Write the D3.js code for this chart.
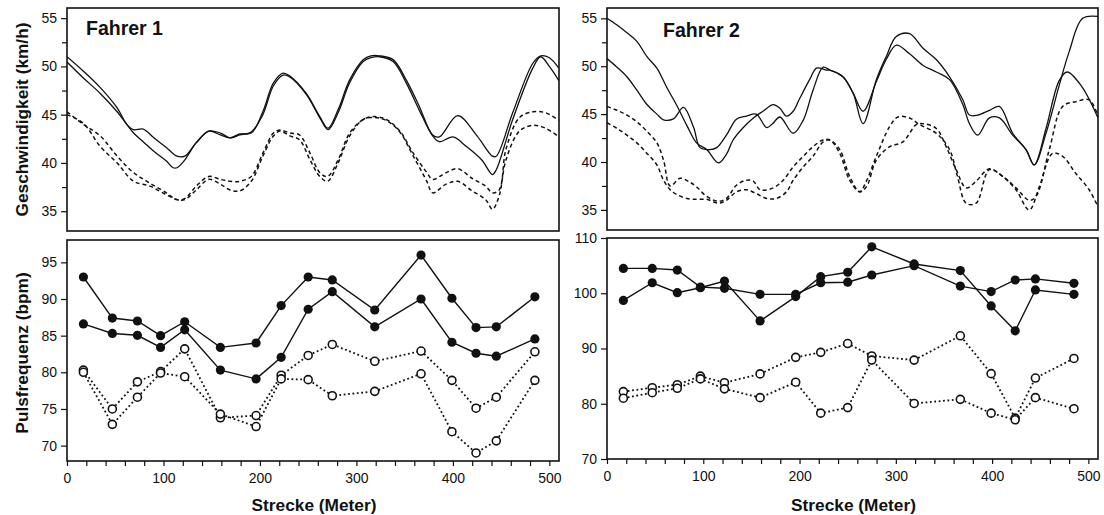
<!DOCTYPE html>
<html><head><meta charset="utf-8">
<script src="https://cdn.jsdelivr.net/npm/d3@7"></script>
<style>body{margin:0;background:#fff}svg{display:block}text{font-family:"Liberation Sans",Arial,sans-serif}</style>
</head><body><svg id="c" width="1104" height="515"></svg>
<script>
// ---------- DATA ----------
const panelTitles = ["Fahrer 1", "Fahrer 2"];
const yTitleSpeed = "Geschwindigkeit (km/h)";
const yTitlePulse = "Pulsfrequenz (bpm)";
const xTitle = "Strecke (Meter)";
const xTicks = [0, 100, 200, 300, 400, 500];
const speedTicks = [35, 40, 45, 50, 55];
const pulseTicks1 = [70, 75, 80, 85, 90, 95];
const pulseTicks2 = [70, 80, 90, 100, 110];

// Fahrer 1 speed (distance m, km/h)
const f1SpeedSolidA = [[0,51.0],[17,49.5],[34.5,47.8],[52,45.7],[62,44.0],[69,43.45],[79,43.5],[90,42.6],[103,41.6],[114,40.7],[122,40.7],[134,42.1],[147,43.3],[159,42.9],[169,42.6],[179,43.0],[191,43.1],[203,45.3],[214,48.3],[224,49.3],[231,49.0],[248,47.2],[262,44.8],[270.6,43.6],[281,45.5],[293,48.6],[307,50.7],[315,51.1],[324,51.1],[338,50.7],[351.6,48.6],[365,45.9],[379,42.9],[386,42.7],[405,44.9],[425,42.8],[441,40.7],[445,40.7],[462,45.2],[482.7,50.3],[491,51.1],[500,50.9],[510,49.8]];
const f1SpeedSolidB = [[0,50.45],[17,48.8],[34.5,47.2],[52,45.3],[62,44.0],[69,43.1],[79,42.2],[90,41.2],[103,40.2],[110,39.5],[114,39.5],[122,40.3],[134,42.1],[147,43.3],[159,43.1],[169,42.6],[179,42.9],[191,43.2],[203,45.0],[214,48.0],[224,49.1],[231,48.9],[248,47.1],[262,44.7],[270.6,43.45],[281,45.2],[293,48.3],[307,50.5],[315,50.9],[324,51.0],[338,50.5],[351.6,48.3],[365,45.5],[379,42.8],[386,42.2],[400,42.7],[414,41.7],[430,40.3],[441,38.8],[445,39.3],[462,44.5],[482.7,49.8],[491,51.0],[500,50.0],[510,48.5]];
const f1SpeedDashA = [[0,45.3],[17,44.0],[34.5,42.8],[52,40.7],[69,39.0],[86,37.9],[103,36.9],[114,36.2],[122,36.3],[134,37.6],[147,38.6],[159,38.3],[169,38.1],[179,38.1],[191,38.6],[203,41.0],[214,43.1],[221,43.4],[231,43.1],[241,42.9],[252,41.0],[262,39.0],[270,38.6],[281,40.3],[293,43.1],[307,44.5],[318,44.8],[331,44.5],[345,43.3],[359,41.0],[373,39.0],[379,38.3],[393,39.0],[405,39.4],[420,38.4],[434,37.6],[441,36.9],[448,37.2],[455,41.4],[469,44.7],[483,45.3],[496,45.2],[510,44.4]];
const f1SpeedDashB = [[0,45.0],[17,44.1],[34.5,41.7],[52,40.0],[69,38.1],[86,37.6],[103,36.7],[114,36.2],[122,36.2],[134,37.2],[147,38.3],[159,37.8],[169,37.2],[179,37.1],[191,38.1],[203,40.7],[214,42.8],[221,43.3],[231,42.8],[241,42.4],[252,40.3],[262,38.6],[270,38.1],[281,40.0],[293,42.8],[307,44.5],[318,44.7],[331,44.4],[345,43.2],[359,40.7],[373,38.1],[379,36.9],[393,37.8],[405,38.1],[420,37.1],[434,36.2],[441,35.2],[448,36.6],[455,40.3],[469,43.3],[483,43.9],[496,43.6],[510,42.7]];

// Fahrer 2 speed
const f2SpeedSolidA = [[0,55.0],[10.4,54.3],[20.7,53.5],[31,52.6],[41.5,51.0],[51.8,49.8],[62,47.8],[72.5,45.9],[83,43.8],[93,42.0],[103.6,41.3],[115.7,39.9],[124,40.8],[131,42.3],[141.6,43.6],[152,44.6],[162,45.3],[172.7,46.0],[179.6,45.6],[186.5,44.8],[193.4,45.3],[200,46.6],[211,48.7],[217.6,49.8],[228,49.6],[231.4,49.6],[245,48.9],[255.6,47.2],[266,44.0],[279.8,48.6],[290,51.0],[300.5,53.1],[314.3,53.4],[328,51.9],[342,50.7],[355.8,48.9],[369.6,46.5],[376.5,44.9],[385,44.9],[397.2,45.4],[407.6,45.8],[421.4,43.0],[435.2,41.3],[443.8,39.7],[456,43.0],[469.7,48.0],[480,51.5],[494,55.0],[510,55.2]];
const f2SpeedSolidB = [[0,50.8],[10.4,49.9],[20.7,48.9],[31,47.5],[41.5,46.0],[51.8,45.0],[58.7,44.4],[69,44.5],[79.4,45.7],[90,43.6],[96.7,41.5],[107,41.3],[114,41.5],[124,42.8],[134.7,44.5],[145,44.8],[155,45.0],[165.8,43.6],[172,44.0],[179.6,44.7],[193.4,43.0],[204,44.4],[214,47.5],[224.5,49.9],[231.4,49.6],[245,48.9],[255.6,47.2],[266,45.3],[279.8,48.4],[290,50.7],[300.5,52.2],[314.3,51.3],[328,50.1],[342,49.4],[355.8,48.6],[369.6,46.0],[376.5,44.0],[385,42.8],[397.2,44.6],[407.6,44.6],[421.4,42.8],[435.2,41.3],[443.8,39.7],[456,43.5],[469.7,48.5],[478,49.4],[493,47.9],[510,44.6]];
const f2SpeedDashA = [[0,45.8],[10.4,45.4],[20.7,44.9],[31,44.2],[41.5,43.2],[51.8,42.0],[58.7,40.2],[65.6,37.5],[76,38.3],[86,37.9],[93,37.4],[103.6,36.4],[115.7,35.9],[124,36.2],[134.7,37.6],[145,38.1],[152,38.0],[159,37.1],[172.7,37.3],[183,38.1],[193.4,39.5],[204,40.6],[214,41.6],[224.5,42.3],[231.4,42.3],[241.8,41.3],[252,38.5],[262.5,36.9],[269.4,37.4],[279.8,40.2],[293.6,41.6],[307.4,42.1],[321.2,43.9],[328,44.0],[342,43.5],[352.3,41.6],[362.7,39.2],[373,37.3],[383.4,38.0],[397.2,39.3],[411,38.5],[424.8,37.3],[438.6,36.0],[445.6,36.4],[459.4,41.3],[473.2,45.8],[487,46.3],[500.8,46.5],[510,44.8]];
const f2SpeedDashB = [[0,44.1],[10.4,43.5],[20.7,42.8],[31,42.0],[41.5,40.9],[51.8,39.7],[58.7,38.1],[65.6,37.1],[72.5,36.6],[83,36.2],[93,36.1],[103.6,36.1],[115.7,35.7],[124,36.0],[134.7,36.9],[145,37.1],[155,36.7],[165.8,36.2],[176,36.2],[186.5,36.9],[193.4,38.1],[204,39.5],[214,40.6],[224.5,42.1],[231.4,42.3],[241.8,40.9],[252,38.1],[262.5,36.9],[269.4,38.0],[279.8,40.6],[293.6,43.7],[302.2,44.7],[314.3,44.6],[324.7,43.9],[342,43.0],[355.8,41.3],[364,38.5],[373,35.7],[383.4,35.7],[397.2,39.2],[411,38.5],[424.8,37.1],[438.6,35.0],[449,37.4],[462.8,40.9],[473.2,40.6],[487,38.8],[500.8,37.1],[510,35.3]];

// Pulse (bpm) at measuring points
const pulseX = [17, 47, 73, 97, 122, 159, 196, 222, 250, 275, 319, 367, 399, 424, 445, 485];
const f1PulseFilledA = [93.0, 87.4, 87.0, 85.0, 86.9, 83.4, 84.0, 89.1, 93.0, 92.6, 88.5, 96.0, 90.1, 86.1, 86.2, 90.3];
const f1PulseFilledB = [86.6, 85.3, 85.05, 83.4, 85.8, 80.3, 79.1, 82.05, 88.6, 91.0, 86.2, 90.0, 84.1, 82.6, 82.2, 84.55];
const f1PulseOpenA = [80.3, 75.0, 78.7, 80.1, 83.2, 73.8, 74.1, 79.6, 82.3, 83.8, 81.5, 82.9, 78.9, 75.1, 76.6, 82.8];
const f1PulseOpenB = [80.0, 72.9, 76.6, 79.9, 79.4, 74.3, 72.6, 79.1, 79.0, 76.8, 77.4, 79.8, 71.9, 69.0, 70.65, 78.9];
const f2PulseFilledA = [104.5, 104.5, 104.2, 101.1, 100.9, 99.8, 99.8, 101.9, 102.0, 103.3, 105.0, 101.3, 100.3, 102.4, 102.6, 101.8];
const f2PulseFilledB = [98.7, 101.9, 100.1, 101.0, 102.2, 95.0, 99.4, 103.0, 103.8, 108.4, 105.3, 104.1, 97.7, 93.2, 100.6, 99.8];
const f2PulseOpenA = [82.2, 82.9, 83.45, 85.0, 83.8, 85.4, 88.4, 89.3, 90.9, 88.65, 87.9, 92.3, 85.45, 77.4, 84.65, 88.2];
const f2PulseOpenB = [81.0, 82.0, 82.8, 84.5, 82.7, 81.1, 83.9, 78.3, 79.3, 87.9, 80.05, 80.8, 78.3, 77.1, 81.1, 79.1];

// ---------- DRAWING ----------
const svg = d3.select('#c');
svg.append('rect').attr('width', 1104).attr('height', 515).attr('fill', '#fff');
const INK = '#111';
let clipId = 0;

function frame(g, x0, y0, x1, y1) {
  g.append('rect').attr('x', x0).attr('y', y0).attr('width', x1 - x0).attr('height', y1 - y0)
    .attr('fill', 'none').attr('stroke', INK).attr('stroke-width', 1.6);
}
function clip(x0, y0, x1, y1) {
  const id = 'clip' + (clipId++);
  svg.append('clipPath').attr('id', id).append('rect')
    .attr('x', x0).attr('y', y0).attr('width', x1 - x0).attr('height', y1 - y0);
  return 'url(#' + id + ')';
}
function styleAxis(g, fs) {
  g.select('.domain').remove();
  g.selectAll('line').attr('stroke', INK).attr('stroke-width', 1.2);
  g.selectAll('text').attr('fill', INK).style('font-size', fs + 'px')
    .style('font-family', '"Liberation Sans",Arial,sans-serif');
}
function yTitleText(g, cy, txt) {
  g.append('text').attr('transform', `translate(28,${cy}) rotate(-90)`)
    .attr('text-anchor', 'middle').text(txt)
    .style('font-size', '17.3px').style('font-weight', 'bold').attr('fill', INK);
}

function speedPanel(x0, y0, x1, y1, dom, series, title, titleX, titleY, yTitle) {
  const x = d3.scaleLinear().domain([0, 510]).range([x0, x1]);
  const y = d3.scaleLinear().domain(dom).range([y1, y0]);
  const g = svg.append('g');
  const minor = d3.range(35, 56, 2.5).filter(v => speedTicks.indexOf(v) < 0);
  styleAxis(g.append('g').attr('transform', `translate(${x0},0)`)
    .call(d3.axisLeft(y).tickValues(minor).tickSize(5).tickFormat('')), 14);
  styleAxis(g.append('g').attr('transform', `translate(${x0},0)`)
    .call(d3.axisLeft(y).tickValues(speedTicks).tickSize(6).tickPadding(4).tickFormat(d3.format('d'))), 14);
  const cp = clip(x0, y0, x1, y1);
  const line = d3.line().x(d => x(d[0])).y(d => y(d[1])).curve(d3.curveCatmullRom.alpha(0.5));
  const lg = g.append('g').attr('clip-path', cp);
  series.forEach(s => {
    lg.append('path').datum(s.data).attr('d', line).attr('fill', 'none')
      .attr('stroke', INK).attr('stroke-width', s.dash ? 1.5 : 1.3)
      .attr('stroke-dasharray', s.dash ? '4,3' : null);
  });
  frame(g, x0, y0, x1, y1);
  g.append('text').attr('x', titleX).attr('y', titleY).text(title)
    .style('font-size', '19.5px').style('font-weight', 'bold').attr('fill', INK);
  if (yTitle) yTitleText(g, (y0 + y1) / 2, yTitle);
}

function pulsePanel(x0, y0, x1, y1, dom, ticks, filled, open, yTitle) {
  const x = d3.scaleLinear().domain([0, 510]).range([x0, x1]);
  const y = d3.scaleLinear().domain(dom).range([y1, y0]);
  const g = svg.append('g');
  styleAxis(g.append('g').attr('transform', `translate(${x0},0)`)
    .call(d3.axisLeft(y).tickValues(ticks).tickSize(6).tickPadding(4).tickFormat(d3.format('d'))), 14);
  styleAxis(g.append('g').attr('transform', `translate(0,${y1})`)
    .call(d3.axisBottom(x).tickValues(d3.range(0, 501, 20)).tickSize(5).tickPadding(7)
      .tickFormat(d => xTicks.indexOf(d) >= 0 ? d : '')), 14);
  const line = d3.line().x(d => x(d[0])).y(d => y(d[1]));
  open.forEach(vals => {
    const pts = pulseX.map((px, i) => [px, vals[i]]);
    g.append('path').datum(pts).attr('d', line).attr('fill', 'none')
      .attr('stroke', INK).attr('stroke-width', 1.8).attr('stroke-dasharray', '1.8,2.6');
  });
  filled.forEach(vals => {
    const pts = pulseX.map((px, i) => [px, vals[i]]);
    g.append('path').datum(pts).attr('d', line).attr('fill', 'none')
      .attr('stroke', INK).attr('stroke-width', 1.4);
  });
  open.forEach(vals => {
    g.append('g').selectAll('circle').data(pulseX.map((px, i) => [px, vals[i]])).join('circle')
      .attr('cx', d => x(d[0])).attr('cy', d => y(d[1])).attr('r', 4)
      .attr('fill', '#fff').attr('stroke', INK).attr('stroke-width', 1.6);
  });
  filled.forEach(vals => {
    g.append('g').selectAll('circle').data(pulseX.map((px, i) => [px, vals[i]])).join('circle')
      .attr('cx', d => x(d[0])).attr('cy', d => y(d[1])).attr('r', 4.6).attr('fill', INK);
  });
  frame(g, x0, y0, x1, y1);
  g.append('text').attr('x', (x0 + x1) / 2 + 1).attr('y', 511).attr('text-anchor', 'middle')
    .text(xTitle).style('font-size', '17.3px').style('font-weight', 'bold').attr('fill', INK);
  if (yTitle) yTitleText(g, 353, yTitle);
}

speedPanel(67, 8, 559, 231, [32.95, 56.05], [
  {data: f1SpeedSolidA}, {data: f1SpeedSolidB},
  {data: f1SpeedDashA, dash: true}, {data: f1SpeedDashB, dash: true}
], panelTitles[0], 86, 35, yTitleSpeed);
speedPanel(607, 8, 1098, 230, [32.9, 56.08], [
  {data: f2SpeedSolidA}, {data: f2SpeedSolidB},
  {data: f2SpeedDashA, dash: true}, {data: f2SpeedDashB, dash: true}
], panelTitles[1], 663, 37, null);
pulsePanel(67, 240, 559, 461, [67.9, 98.05], pulseTicks1,
  [f1PulseFilledA, f1PulseFilledB], [f1PulseOpenA, f1PulseOpenB], yTitlePulse);
pulsePanel(607, 238, 1098, 459, [70, 110], pulseTicks2,
  [f2PulseFilledA, f2PulseFilledB], [f2PulseOpenA, f2PulseOpenB], null);
</script></body></html>
